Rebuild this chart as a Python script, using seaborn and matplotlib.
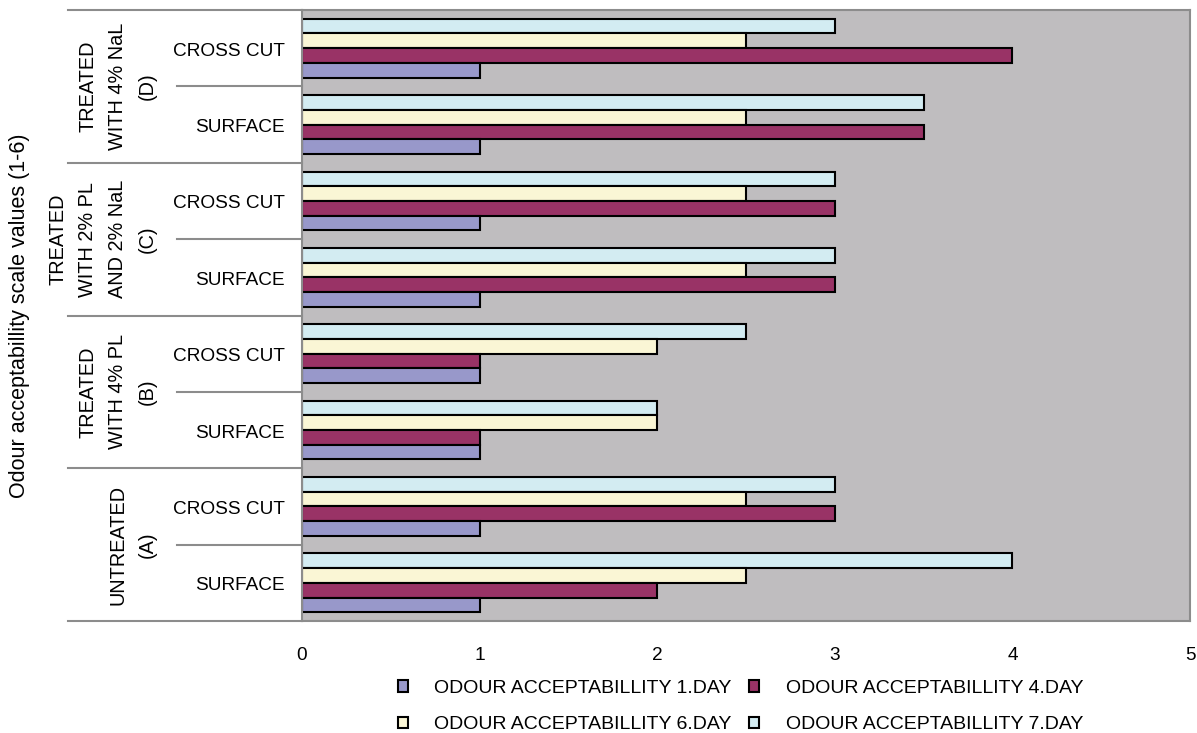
import matplotlib
matplotlib.use("Agg")
import matplotlib.pyplot as plt
import seaborn as sns
import pandas as pd
from matplotlib.patches import Patch

# ---- data (top to bottom as displayed) ----
categories = ["D_CROSS", "D_SURF", "C_CROSS", "C_SURF", "B_CROSS", "B_SURF", "A_CROSS", "A_SURF"]
sub_labels = ["CROSS CUT", "SURFACE", "CROSS CUT", "SURFACE", "CROSS CUT", "SURFACE", "CROSS CUT", "SURFACE"]
group_labels = ["TREATED\nWITH 4% NaL\n(D)", "TREATED\nWITH 2% PL\nAND 2% NaL\n(C)",
                "TREATED\nWITH 4% PL\n(B)", "UNTREATED\n(A)"]
series_names = ["ODOUR ACCEPTABILLITY 1.DAY", "ODOUR ACCEPTABILLITY 4.DAY",
                "ODOUR ACCEPTABILLITY 6.DAY", "ODOUR ACCEPTABILLITY 7.DAY"]
day1 = [1, 1, 1, 1, 1, 1, 1, 1]
day4 = [4, 3.5, 3, 3, 1, 1, 3, 2]
day6 = [2.5, 2.5, 2.5, 2.5, 2, 2, 2.5, 2.5]
day7 = [3, 3.5, 3, 3, 2.5, 2, 3, 4]
xticks = [0, 1, 2, 3, 4, 5]

colors = {series_names[0]: "#9898CA", series_names[1]: "#993366",
          series_names[2]: "#FAF6D5", series_names[3]: "#D3ECF2"}

rows = []
for vals, name in zip([day1, day4, day6, day7], series_names):
    for c, v in zip(categories, vals):
        rows.append({"cat": c, "series": name, "value": v})
df = pd.DataFrame(rows)

plt.rcParams['font.family'] = ['Liberation Sans', 'DejaVu Sans']
fs = 13.7

fig = plt.figure(figsize=(11.97, 7.33), dpi=100)
W, H = 1197, 733
L, R, T, B = 302, 1190, 10, 621
ax = fig.add_axes([L / W, 1 - B / H, (R - L) / W, (B - T) / H])

hue_order = series_names[::-1]
sns.barplot(data=df, x="value", y="cat", hue="series", order=categories,
            hue_order=hue_order, palette=colors, orient="h", width=0.77,
            edgecolor="black", linewidth=1.5, ax=ax, legend=False, saturation=1)

ax.set_facecolor("#BFBDBF")
ax.set_xlim(0, 5)
ax.set_ylim(7.5, -0.5)
ax.set_xticks(xticks)
ax.set_xticklabels([str(t) for t in xticks], fontsize=fs)
ax.tick_params(axis="x", length=0, pad=19)
ax.set_yticks([])
ax.set_xlabel("")
ax.set_ylabel("")
for s in ax.spines.values():
    s.set_color("#8C8C8C")
    s.set_linewidth(1.5)

def px2ax(px):
    return (px - L) / (R - L)

tr = ax.get_yaxis_transform()
# sub labels
for i, lab in enumerate(sub_labels):
    ax.text(px2ax(285), i + 0.04, lab, transform=tr, ha="right", va="center", fontsize=fs, clip_on=False)
# group labels
for g, lab in enumerate(group_labels):
    yc = 2 * g + 0.5
    ax.text(px2ax(157), yc, lab, transform=tr, ha="right", va="center", rotation=90,
            multialignment="center", fontsize=14.3, linespacing=1.72, clip_on=False)
# separator lines
for yb in [-0.5, 1.5, 3.5, 5.5, 7.5]:
    ax.plot([px2ax(68), 0], [yb, yb], transform=tr, color="#8C8C8C", lw=1.5, clip_on=False)
for yb in [0.5, 2.5, 4.5, 6.5]:
    ax.plot([px2ax(177), 0], [yb, yb], transform=tr, color="#8C8C8C", lw=1.5, clip_on=False)

fig.text(20 / W, 1 - 315.5 / H, "Odour acceptabillity scale values (1-6)", rotation=90,
         ha="center", va="center", fontsize=15.5)

handles = [Patch(facecolor=colors[n], edgecolor="black", linewidth=1.5) for n in series_names]
order = [0, 2, 1, 3]
fig.legend([handles[i] for i in order], [series_names[i] for i in order], ncol=2,
           loc="center", bbox_to_anchor=(740.5 / W, 1 - 706.5 / H), frameon=False,
           fontsize=14, handlelength=0.52, handleheight=0.52, handletextpad=1.35,
           columnspacing=0.9, labelspacing=1.0, borderpad=0)

fig.savefig("out.png", dpi=100)
